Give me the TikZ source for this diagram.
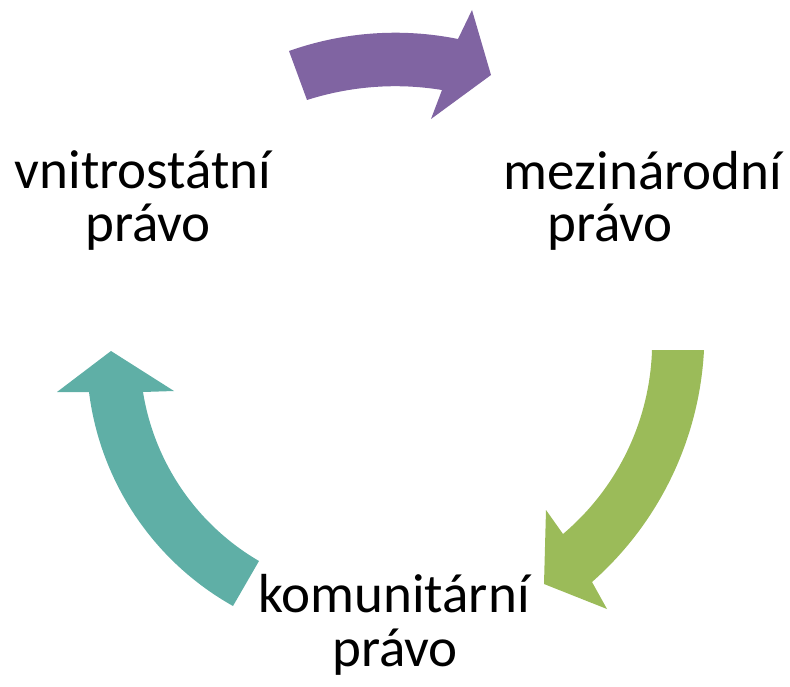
\documentclass[tikz,border=0pt]{standalone}
\usepackage{fontspec}
\setmainfont{Carlito}
\definecolor{cyclepurple}{HTML}{8064A2}
\definecolor{cyclegreen}{HTML}{9BBB59}
\definecolor{cycleteal}{HTML}{5FAFA6}

\begin{document}
\begin{tikzpicture}[x=1pt,y=-1pt,
    lbl/.style={anchor=base,inner sep=0pt,font=\fontsize{55}{55}\selectfont}]
    \useasboundingbox (0,0) rectangle (790,687);

    \node[lbl] (dom) at (143,189) {vnitrostátní};
    \node[lbl] (dom2) at (148,242) {právo};
    \node[lbl] (intl) at (643,190) {mezinárodní};
    \node[lbl] (intl2) at (610,242) {právo};
    \node[lbl] (comm) at (394,612) {komunitární};
    \node[lbl] (comm2) at (395,666) {právo};

    % block arrows of the cycle
    \fill[cyclepurple] (289,51) .. controls (343.2,31.8) and (401.6,27.6) .. (458,39)
        -- (472,10) -- (491,75) -- (431,119) -- (442,90)
        .. controls (396.8,82.6) and (350.6,86.1) .. (307,100) -- cycle;
    \fill[cyclegreen] (704,350) -- (652,350)
        .. controls (649.7,421.2) and (617.4,488) .. (563,534)
        -- (546,510) -- (544,584) -- (607,609) -- (592,582)
        .. controls (659.1,522.9) and (699.4,439.3) .. (704,350) -- cycle;
    \fill[cycleteal] (111,351) -- (57,392) -- (89,392)
        .. controls (100.3,482.2) and (153.7,561.5) .. (233,606)
        -- (259,561)
        .. controls (197,524.9) and (154.4,462.9) .. (143,392)
        -- (174,391) -- cycle;
\end{tikzpicture}
\end{document}
